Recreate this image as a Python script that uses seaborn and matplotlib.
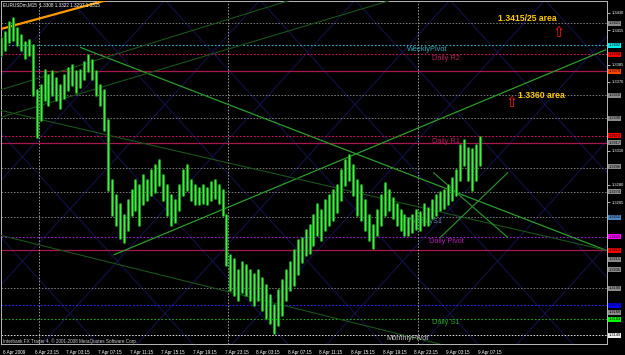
import matplotlib
matplotlib.use("Agg")
import matplotlib.pyplot as plt
import matplotlib.transforms as mtransforms
import pandas as pd
import seaborn as sns

# ---------------- data ----------------
# 30-minute samples of the M15 chart, bar number counted from 6 Apr 2009 19:15
bar_time = list(range(0, 244, 2))
bar_high = [1.3408, 1.3413, 1.3422, 1.3426, 1.3417, 1.3411, 1.3405, 1.3406, 1.3402, 1.3363,
            1.3367, 1.3380, 1.3376, 1.3379, 1.3373, 1.3367, 1.3376, 1.3382, 1.3385, 1.3379,
            1.3380, 1.3387, 1.3393, 1.3389, 1.3379, 1.3367, 1.3363, 1.3337, 1.3284, 1.3271,
            1.3263, 1.3254, 1.3267, 1.3276, 1.3284, 1.3280, 1.3289, 1.3284, 1.3293, 1.3297,
            1.3302, 1.3289, 1.3280, 1.3271, 1.3267, 1.3280, 1.3293, 1.3297, 1.3284, 1.3280,
            1.3277, 1.3280, 1.3277, 1.3283, 1.3284, 1.3280, 1.3276, 1.3254, 1.3219, 1.3215,
            1.3206, 1.3213, 1.3210, 1.3206, 1.3202, 1.3206, 1.3199, 1.3193, 1.3184, 1.3175,
            1.3188, 1.3197, 1.3206, 1.3213, 1.3223, 1.3232, 1.3234, 1.3241, 1.3245, 1.3254,
            1.3263, 1.3258, 1.3267, 1.3271, 1.3276, 1.3280, 1.3293, 1.3302, 1.3306, 1.3297,
            1.3284, 1.3280, 1.3267, 1.3254, 1.3245, 1.3258, 1.3271, 1.3282, 1.3276, 1.3269,
            1.3263, 1.3258, 1.3254, 1.3251, 1.3254, 1.3258, 1.3256, 1.3263, 1.3260, 1.3267,
            1.3271, 1.3274, 1.3276, 1.3280, 1.3286, 1.3293, 1.3315, 1.3319, 1.3312, 1.3311,
            1.3315, 1.3322]
bar_low = [1.3393, 1.3398, 1.3405, 1.3406, 1.3402, 1.3398, 1.3391, 1.3393, 1.3358, 1.3322,
           1.3337, 1.3354, 1.3350, 1.3358, 1.3354, 1.3347, 1.3356, 1.3363, 1.3367, 1.3361,
           1.3365, 1.3372, 1.3379, 1.3372, 1.3358, 1.3350, 1.3328, 1.3276, 1.3254, 1.3245,
           1.3234, 1.3230, 1.3241, 1.3254, 1.3258, 1.3245, 1.3263, 1.3267, 1.3271, 1.3274,
           1.3280, 1.3267, 1.3254, 1.3245, 1.3248, 1.3258, 1.3271, 1.3276, 1.3267, 1.3263,
           1.3263, 1.3264, 1.3263, 1.3267, 1.3269, 1.3264, 1.3254, 1.3210, 1.3188, 1.3184,
           1.3180, 1.3187, 1.3184, 1.3180, 1.3175, 1.3180, 1.3171, 1.3164, 1.3160, 1.3151,
           1.3158, 1.3167, 1.3180, 1.3188, 1.3193, 1.3202, 1.3213, 1.3219, 1.3221, 1.3228,
           1.3236, 1.3232, 1.3241, 1.3245, 1.3249, 1.3256, 1.3267, 1.3280, 1.3284, 1.3271,
           1.3254, 1.3249, 1.3241, 1.3232, 1.3225, 1.3236, 1.3245, 1.3254, 1.3258, 1.3251,
           1.3245, 1.3241, 1.3236, 1.3236, 1.3239, 1.3242, 1.3241, 1.3245, 1.3245, 1.3251,
           1.3254, 1.3258, 1.3260, 1.3263, 1.3267, 1.3271, 1.3284, 1.3297, 1.3284, 1.3276,
           1.3284, 1.3297]

time_tick_bars = [0, 16, 32, 48, 64, 80, 96, 112, 128, 144, 160, 176, 192, 208, 224, 240]
time_tick_labels = ["6 Apr 2009", "6 Apr 23:15", "7 Apr 03:15", "7 Apr 07:15", "7 Apr 11:15",
                    "7 Apr 15:15", "7 Apr 19:15", "7 Apr 23:15", "8 Apr 03:15", "8 Apr 07:15",
                    "8 Apr 11:15", "8 Apr 15:15", "8 Apr 19:15", "8 Apr 23:15", "9 Apr 03:15",
                    "9 Apr 07:15"]
price_ticks = [1.3430, 1.3415, 1.3400, 1.3385, 1.3370, 1.3355, 1.3340, 1.3325, 1.3310, 1.3295,
               1.3280, 1.3265, 1.3250, 1.3235, 1.3220, 1.3205, 1.3190, 1.3175, 1.3160, 1.3145]
separator_bars = [19, 115, 211]

level_prices = [1.3421, 1.3402, 1.3394, 1.3379, 1.3358, 1.3338, 1.3323, 1.3317, 1.3295,
                1.3274, 1.3252, 1.3235, 1.3223, 1.3190, 1.3175, 1.3163, 1.3149]
level_kinds = ["grid", "weekly_pivot", "r", "solid", "grid", "grid", "r", "solid", "grid",
               "grid", "grid", "pivot", "solid", "grid", "blue", "s", "monthly"]

tag_prices = [1.3421, 1.3402, 1.3394, 1.3379, 1.3358, 1.3338, 1.3323, 1.3317, 1.3296, 1.3274,
              1.3252, 1.3235, 1.3223, 1.3215, 1.3206, 1.3190, 1.3175, 1.3169, 1.3163, 1.3149]
tag_kinds = ["gray", "cyan", "red", "orange", "gray", "gray", "red", "gray", "gray", "gray",
             "steel", "magenta", "red", "gray", "gray", "gray", "blue", "gray", "green", "white"]

trend_t0 = [0, 40, 57, 0, 0, 0, 0, 218.5, 222]
trend_p0 = [1.3416, 1.3400, 1.3219, 1.3363, 1.3339, 1.3345, 1.3236, 1.3291, 1.3234]
trend_t1 = [70, 306, 306, 146, 197, 306, 227, 256.4, 256.4]
trend_p1 = [1.3449, 1.3223, 1.3398, 1.3441, 1.3441, 1.3223, 1.3139, 1.3234, 1.3291]
trend_kinds = ["orange", "bright", "bright", "dim", "dim", "dim", "dim", "mid", "mid"]

note_texts = ["WeeklyPivot", "Daily R2", "Daily R1", "WeeklyS1", "Daily Pivot", "Daily S1", "MonthlyPivot"]
note_t = [205.4, 218, 218, 207, 216.5, 218, 194.7]
note_p = [1.3398, 1.3390, 1.3318, 1.3248, 1.3231, 1.3160, 1.3146]
note_kinds = ["weekly_pivot", "r", "r", "ws", "pivot", "s", "monthly"]

area_texts = ["1.3415/25 area", "1.3360 area"]
area_t = [251.3, 261.4]
area_p = [1.3425, 1.3358]
arrow_t = [282.1, 258.4]
arrow_p = [1.3413, 1.3352]

header = "EURUSDm,M15  1.3308 1.3322 1.3297 1.3315"
copyright_text = "Interbank FX Trader 4, \u00a9 2001-2008 MetaQuotes Software Corp."

# ---------------- styles ----------------
DOT = (0, (1.6, 1.6))
level_style = {
    "grid": ("#7a7a7a", DOT, 0.7),
    "weekly_pivot": ("#3aa6b8", DOT, 0.8),
    "r": ("#d0105a", DOT, 0.8),
    "solid": ("#a8184e", "-", 0.9),
    "pivot": ("#9a1ccc", DOT, 0.8),
    "blue": ("#2828ff", DOT, 0.8),
    "s": ("#18a018", DOT, 0.8),
    "monthly": ("#e0e0e0", DOT, 0.7),
}
tag_color = {"gray": "#8a8a8a", "cyan": "#00f0f0", "red": "#ff0000", "orange": "#ff4400",
             "steel": "#4a86c0", "magenta": "#ff00ff", "blue": "#0000ff", "green": "#00ff00",
             "white": "#f0f0f0"}
trend_style = {"orange": ("#ff9a00", 1.6), "bright": ("#2c9c2c", 0.9),
               "dim": ("#1b531b", 0.8), "mid": ("#2a8a2a", 0.9)}
note_color = {"weekly_pivot": "#2fb0b8", "r": "#b0205e", "ws": "#6c84a8", "pivot": "#b41cb4",
              "s": "#22a022", "monthly": "#c8c8c8"}

W, H = 625, 355
sns.set_style("dark", {"axes.facecolor": "#000000", "figure.facecolor": "#000000"})
plt.rcParams["font.family"] = ["Liberation Sans", "DejaVu Sans"]

fig = plt.figure(figsize=(W / 100, H / 100), dpi=100, facecolor="#000000")
ax = fig.add_axes([1 / W, 11 / H, 606 / W, 343 / H])
ax.set_facecolor("#000000")
ax.set_xlim(0.3, 306.4)
ax.set_ylim(1.31413, 1.34404)


def pxa(px, py):
    return (px - 1) / 606, (344 - py) / 343


# Gann-style diagonal grid (decoration, in pixel space)
slope, step = 1.1, 95
for c in range(-500, 1200, step):
    for sgn in (1, -1):
        x0, y0 = pxa(c, 0)
        x1, y1 = pxa(c + sgn * 400 / slope, 400)
        ax.plot([x0, x1], [y0, y1], transform=ax.transAxes, color="#16165a", lw=0.6, zorder=1)

# horizontal levels
for p, k in zip(level_prices, level_kinds):
    col, ls, lw = level_style[k]
    ax.axhline(p, color=col, ls=ls, lw=lw, zorder=2)

for t in separator_bars:
    ax.axvline(t, color="#9a9a9a", ls=DOT, lw=0.7, zorder=2)

# trend lines
for t0, p0, t1, p1, k in zip(trend_t0, trend_p0, trend_t1, trend_p1, trend_kinds):
    col, lw = trend_style[k]
    ax.plot([t0, t1], [p0, p1], color=col, lw=lw, zorder=3, solid_capstyle="butt")

# price bars (high-low) drawn with seaborn: dark body plus bright core
n = len(bar_time)
df = pd.DataFrame({"t": bar_time + bar_time, "price": bar_high + bar_low,
                   "bar": list(range(n)) * 2})
sns.lineplot(data=df, x="t", y="price", units="bar", estimator=None, sort=False,
             color="#1b8a1b", lw=2.2, ax=ax, legend=False, zorder=4)
sns.lineplot(data=df, x="t", y="price", units="bar", estimator=None, sort=False,
             color="#40f040", lw=0.9, ax=ax, legend=False, zorder=4.5)
ax.set_xlabel("")
ax.set_ylabel("")

# annotations
for s, t, p, k in zip(note_texts, note_t, note_p, note_kinds):
    ax.text(t, p, s, color=note_color[k], fontsize=5.3, va="center", ha="left", zorder=3)
for s, t, p in zip(area_texts, area_t, area_p):
    ax.text(t, p, s, color="#ffcc00", fontsize=6.2, fontweight="bold", va="center", ha="left", zorder=6)
for t, p in zip(arrow_t, arrow_p):
    ax.text(t, p, "\u21e7", color="#ff1a1a", fontsize=10.5, va="center", ha="center",
            family="DejaVu Sans", zorder=6)

# axes / ticks: keep only scale labels that are not hidden under a price tag
ytrans = ax.get_yaxis_transform()
px_per_price = 343 / (1.34404 - 1.31413)
visible_ticks = [v for v in price_ticks
                 if min(abs(v - tp) for tp in tag_prices) * px_per_price > 5]
ax.yaxis.tick_right()
ax.set_yticks(visible_ticks)
ax.set_yticklabels([f"{v:.4f}" for v in visible_ticks])
ax.set_xticks(time_tick_bars)
ax.set_xticklabels(time_tick_labels)
ax.tick_params(axis="y", colors="#ffffff", labelsize=2.9, length=2, width=0.5, pad=1.5, direction="out")
ax.tick_params(axis="x", colors="#ffffff", labelsize=3.3, length=3, width=0.5, pad=1, direction="out")
shift = mtransforms.ScaledTranslation(2 / 100, 0, fig.dpi_scale_trans)
for lab in ax.get_xticklabels():
    lab.set_horizontalalignment("left")
    lab.set_transform(lab.get_transform() + shift)
ax.grid(False)
for sp in ax.spines.values():
    sp.set_color("#b8b8b8")
    sp.set_linewidth(0.7)

# price tags on the right scale
for p, k in zip(tag_prices, tag_kinds):
    ax.text(1.003, p, f"{p:.4f}", transform=ytrans, fontsize=2.8, color="#000000",
            va="center", ha="left", zorder=7, clip_on=False,
            bbox=dict(boxstyle="square,pad=0.12", fc=tag_color[k], ec="none"))

fig.text(3 / W, 1 - 5 / H, header, color="#ffffff", fontsize=3.3, va="center", ha="left")
fig.text(3 / W, 1 - 341 / H, copyright_text, color="#d0d0d0", fontsize=3.3, va="center", ha="left")

fig.savefig("out.png", dpi=100, facecolor="#000000")
